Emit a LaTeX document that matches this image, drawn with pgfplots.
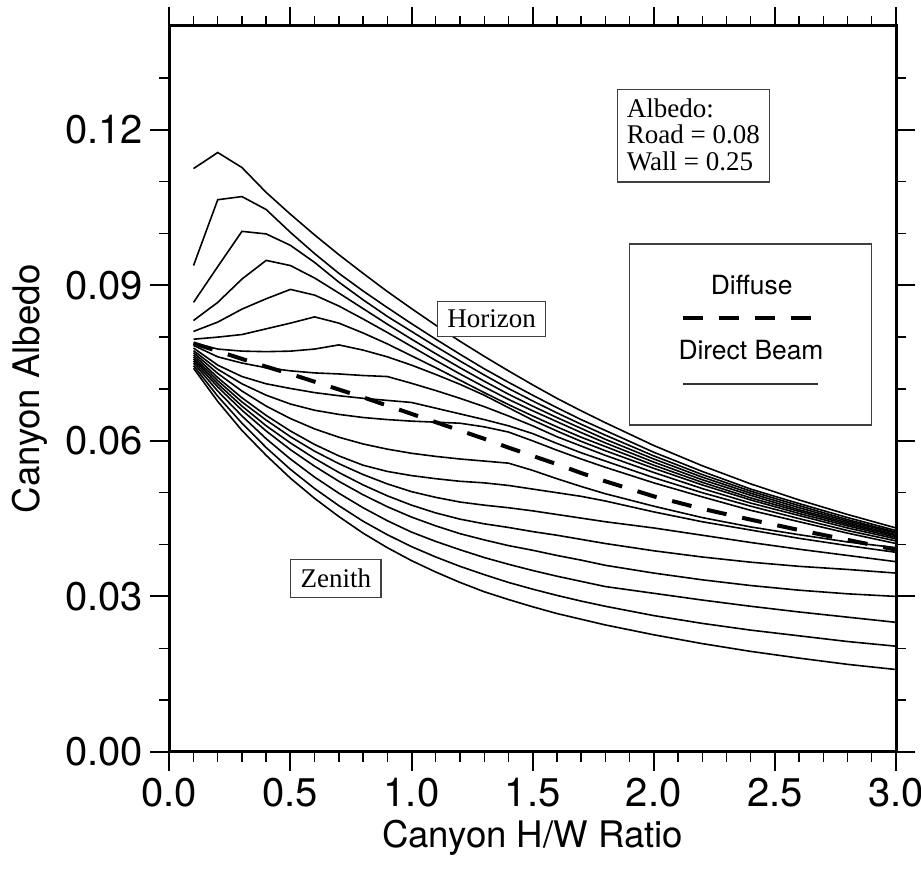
\documentclass[border=0pt]{standalone}
\usepackage{fontspec}
\setmainfont{TeX Gyre Heros}
\newfontfamily\tms{Liberation Serif}
\usepackage{pgfplots}
\usepackage{pgfplotstable}
\pgfplotsset{compat=1.18}

\pgfplotstableread{
x a85 a80 a75 a70 a65 a60 a55 a50 a45 a40 a35 a30 a25 a20 a15 a10 a5 a0 dif
0.1 0.1125 0.0938 0.0867 0.0832 0.0811 0.0796 0.0789 0.0784 0.0779 0.0774 0.0770 0.0766 0.0762 0.0758 0.0754 0.0750 0.0745 0.0740 0.0788
0.2 0.1156 0.1065 0.0936 0.0867 0.0829 0.0800 0.0777 0.0762 0.0746 0.0738 0.0730 0.0722 0.0716 0.0710 0.0704 0.0696 0.0686 0.0676 0.0773
0.3 0.1127 0.1071 0.1004 0.0912 0.0854 0.0805 0.0773 0.0750 0.0724 0.0710 0.0696 0.0683 0.0675 0.0667 0.0659 0.0648 0.0634 0.0620 0.0758
0.4 0.1079 0.1046 0.0999 0.0948 0.0874 0.0816 0.0772 0.0741 0.0710 0.0688 0.0667 0.0649 0.0640 0.0629 0.0619 0.0604 0.0587 0.0572 0.0743
0.5 0.1037 0.1002 0.0977 0.0938 0.0892 0.0827 0.0773 0.0735 0.0701 0.0671 0.0643 0.0619 0.0608 0.0596 0.0583 0.0565 0.0545 0.0528 0.0729
0.6 0.0997 0.0961 0.0944 0.0914 0.0881 0.0839 0.0777 0.0731 0.0693 0.0659 0.0623 0.0593 0.0580 0.0566 0.0551 0.0530 0.0508 0.0489 0.0714
0.7 0.0959 0.0923 0.0906 0.0885 0.0860 0.0827 0.0785 0.0729 0.0687 0.0651 0.0607 0.0571 0.0556 0.0539 0.0522 0.0499 0.0475 0.0454 0.0699
0.8 0.0923 0.0889 0.0872 0.0855 0.0835 0.0808 0.0775 0.0726 0.0682 0.0645 0.0594 0.0553 0.0535 0.0515 0.0496 0.0471 0.0445 0.0422 0.0684
0.9 0.0888 0.0857 0.0840 0.0825 0.0809 0.0787 0.0762 0.0724 0.0678 0.0641 0.0584 0.0541 0.0517 0.0494 0.0473 0.0446 0.0419 0.0394 0.0668
1.0 0.0855 0.0826 0.0811 0.0796 0.0782 0.0764 0.0746 0.0711 0.0674 0.0638 0.0576 0.0533 0.0502 0.0476 0.0453 0.0424 0.0396 0.0369 0.0652
1.1 0.0823 0.0796 0.0782 0.0768 0.0755 0.0741 0.0728 0.0697 0.0663 0.0636 0.0570 0.0527 0.0491 0.0461 0.0436 0.0406 0.0376 0.0347 0.0636
1.2 0.0792 0.0767 0.0754 0.0741 0.0729 0.0717 0.0709 0.0682 0.0652 0.0634 0.0565 0.0522 0.0482 0.0449 0.0421 0.0390 0.0358 0.0327 0.0620
1.3 0.0763 0.0739 0.0727 0.0715 0.0704 0.0693 0.0688 0.0666 0.0641 0.0627 0.0561 0.0519 0.0476 0.0440 0.0409 0.0375 0.0342 0.0309 0.0604
1.4 0.0735 0.0713 0.0701 0.0690 0.0680 0.0670 0.0664 0.0648 0.0629 0.0617 0.0557 0.0514 0.0471 0.0433 0.0398 0.0362 0.0327 0.0294 0.0587
1.5 0.0708 0.0688 0.0677 0.0667 0.0658 0.0648 0.0640 0.0629 0.0614 0.0600 0.0543 0.0507 0.0465 0.0425 0.0389 0.0350 0.0314 0.0280 0.0571
1.6 0.0682 0.0664 0.0654 0.0645 0.0637 0.0627 0.0619 0.0608 0.0595 0.0582 0.0527 0.0500 0.0458 0.0418 0.0379 0.0339 0.0302 0.0267 0.0555
1.7 0.0658 0.0641 0.0632 0.0624 0.0616 0.0607 0.0599 0.0590 0.0577 0.0565 0.0512 0.0493 0.0451 0.0410 0.0370 0.0329 0.0291 0.0256 0.0538
1.8 0.0635 0.0620 0.0611 0.0603 0.0596 0.0589 0.0581 0.0572 0.0561 0.0549 0.0498 0.0484 0.0444 0.0402 0.0360 0.0319 0.0281 0.0245 0.0522
2.0 0.0591 0.0578 0.0571 0.0565 0.0559 0.0553 0.0547 0.0539 0.0529 0.0519 0.0474 0.0463 0.0432 0.0388 0.0345 0.0306 0.0263 0.0226 0.0493
2.2 0.0552 0.0541 0.0535 0.0530 0.0525 0.0520 0.0515 0.0508 0.0500 0.0492 0.0452 0.0444 0.0418 0.0376 0.0332 0.0293 0.0248 0.0209 0.0469
2.4 0.0517 0.0507 0.0503 0.0499 0.0495 0.0490 0.0486 0.0480 0.0474 0.0466 0.0434 0.0428 0.0404 0.0366 0.0321 0.0281 0.0235 0.0194 0.0448
2.6 0.0486 0.0479 0.0475 0.0471 0.0467 0.0464 0.0460 0.0456 0.0450 0.0444 0.0419 0.0412 0.0391 0.0358 0.0312 0.0270 0.0224 0.0181 0.0428
2.8 0.0458 0.0452 0.0448 0.0445 0.0442 0.0439 0.0436 0.0432 0.0427 0.0422 0.0405 0.0398 0.0379 0.0352 0.0305 0.0260 0.0213 0.0169 0.0409
3.0 0.0432 0.0427 0.0424 0.0422 0.0419 0.0417 0.0414 0.0411 0.0407 0.0402 0.0394 0.0385 0.0367 0.0345 0.0300 0.0250 0.0204 0.0159 0.0390
}\datatable

\newcommand\PX[2]{({(#1-169.3)*0.5pt},{(752-#2)*0.5pt})}

\begin{document}
\begin{tikzpicture}
\path[use as bounding box] \PX{0}{0} rectangle \PX{921}{870};
\begin{axis}[
  at={(0,0)}, anchor=south west,
  width=363.35pt, height=363pt, scale only axis,
  xmin=0, xmax=3, ymin=0, ymax=0.14,
  xtick={0,0.5,1,1.5,2,2.5,3},
  minor xtick={0.1,0.2,0.3,0.4,0.6,0.7,0.8,0.9,1.1,1.2,1.3,1.4,1.6,1.7,1.8,1.9,2.1,2.2,2.3,2.4,2.6,2.7,2.8,2.9},
  ytick={0,0.03,0.06,0.09,0.12},
  minor ytick={0.01,0.02,0.04,0.05,0.07,0.08,0.1,0.11,0.13},
  tick align=outside,
  major tick length=9.5pt, minor tick length=5pt,
  every tick/.style={black, line width=1pt},
  every minor tick/.style={black, line width=0.7pt},
  axis line style={line width=1.5pt},
  scaled y ticks=false, scaled x ticks=false,
  /pgf/number format/assume math mode=true,
  xticklabel={\pgfmathprintnumber[fixed,fixed zerofill,precision=1]{\tick}},
  yticklabel={\pgfmathprintnumber[fixed,fixed zerofill,precision=2]{\tick}},
  tick label style={font=\fontsize{20}{24}\selectfont},
  clip=false,
]
\pgfplotsinvokeforeach{a85,a80,a75,a70,a65,a60,a55,a50,a45,a40,a35,a30,a25,a20,a15,a10,a5,a0}{
  \addplot[black, line width=0.8pt, mark=none] table[x=x, y=#1] {\datatable};
}
\addplot[black, line width=2pt, mark=none, dash pattern=on 10pt off 8pt] table[x=x, y=dif] {\datatable};
\end{axis}

% axis titles
\path \PX{40}{389} node[rotate=90, anchor=base, inner sep=0pt, font=\fontsize{18.3}{22}\selectfont] {Canyon Albedo};
\path \PX{532.7}{848} node[anchor=base, inner sep=0pt, font=\fontsize{18.3}{22}\selectfont] {Canyon H/W Ratio};

% albedo box
\draw[black!75, line width=0.6pt] \PX{617.3}{89.3} rectangle \PX{769.3}{182};
\path \PX{626.5}{117.3} node[anchor=base west, inner sep=0pt, font=\tms\fontsize{13.5}{14}\selectfont] {Albedo:};
\path \PX{626.5}{144} node[anchor=base west, inner sep=0pt, font=\tms\fontsize{13.5}{14}\selectfont] {Road = 0.08};
\path \PX{626.5}{170.7} node[anchor=base west, inner sep=0pt, font=\tms\fontsize{13.5}{14}\selectfont] {Wall = 0.25};

% legend box
\draw[black!75, line width=0.6pt] \PX{629.3}{244} rectangle \PX{871.7}{425};
\path \PX{751.7}{295} node[anchor=base, inner sep=0pt, font=\fontsize{13.2}{14}\selectfont] {Diffuse};
\draw[black, line width=2pt, dash pattern=on 10pt off 8pt] \PX{682.7}{318.3} -- \PX{810.7}{318.3};
\path \PX{751}{360} node[anchor=base, inner sep=0pt, font=\fontsize{13.2}{14}\selectfont] {Direct Beam};
\draw[black!80, line width=0.7pt] \PX{683}{384} -- \PX{818}{384};

% curve labels
\path \PX{436.7}{319.2} node[anchor=west, draw=black!75, line width=0.6pt, fill=white, inner xsep=5pt, minimum height=17.5pt, font=\tms\fontsize{13.5}{14}\selectfont] {Horizon};
\path \PX{290}{578.3} node[anchor=west, draw=black!75, line width=0.6pt, fill=white, inner xsep=5pt, minimum height=19pt, font=\tms\fontsize{13.5}{14}\selectfont] {Zenith};
\end{tikzpicture}
\end{document}
